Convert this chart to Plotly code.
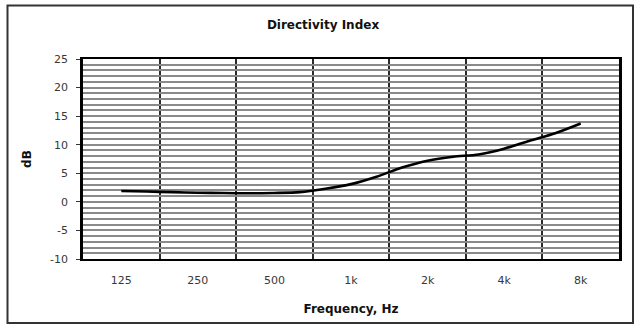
import numpy as np
import plotly.graph_objects as go

# Octave band labels (category axis) and 1/3-octave directivity index values (dB)
octave_labels = ["125", "250", "500", "1k", "2k", "4k", "8k"]
third_octave_labels = ["125", "160", "200", "250", "315", "400", "500", "630", "800",
                       "1k", "1.25k", "1.6k", "2k", "2.5k", "3.15k", "4k", "5k", "6.3k", "8k"]
di_db = [1.9, 1.8, 1.7, 1.6, 1.55, 1.5, 1.55, 1.7, 2.3,
         3.1, 4.4, 6.0, 7.2, 7.9, 8.3, 9.3, 10.7, 12.0, 13.7]
y_tick_vals = [-10, -5, 0, 5, 10, 15, 20, 25]
y_tick_text = ["-10", "-5", "0", "5", "10", "15", "20", "25"]

W, H = 636, 327
L, R, T, B = 83, 17, 59, 68
pw, ph = W - L - R, H - T - B

x_third = np.arange(len(third_octave_labels)) / 3.0
x_oct = np.arange(len(octave_labels))

fig = go.Figure()
fig.add_trace(go.Scatter(
    x=x_third, y=di_db, mode="lines",
    line=dict(color="black", width=2.6, shape="spline", smoothing=0.8),
    hoverinfo="skip", showlegend=False))

tick_font = dict(family="DejaVu Sans", size=11, color="#383838")
title_font = dict(family="DejaVu Sans", size=12, color="#111")
fig.update_layout(
    width=W, height=H,
    margin=dict(l=L, r=R, t=T, b=B),
    paper_bgcolor="white", plot_bgcolor="white",
    title=dict(text="<b>Directivity Index</b>", x=323 / W, xanchor="center",
               y=1 - 25 / H, yanchor="middle", font=title_font),
    xaxis=dict(range=[-0.5, 6.5], tickmode="array", tickvals=x_oct, ticktext=octave_labels,
               showgrid=False, zeroline=False, showline=True, linecolor="black", linewidth=2,
               mirror=True, ticks="", tickfont=tick_font, ticklabelstandoff=10,
               minor=dict(tickvals=list(np.arange(0.5, 6.5, 1.0)), showgrid=True,
                          gridcolor="#2a2a2a", gridwidth=1.6, ticks=""),
               title=dict(text="<b>Frequency, Hz</b>", standoff=18, font=title_font)),
    yaxis=dict(range=[-10, 25], tickmode="array", tickvals=y_tick_vals, ticktext=y_tick_text,
               showgrid=True, gridcolor="#8a8a8a", gridwidth=2.2,
               zeroline=False, showline=True, linecolor="black", linewidth=2.5, mirror=True,
               ticks="outside", ticklen=4, tickcolor="#333", tickfont=tick_font,
               ticklabelstandoff=6,
               minor=dict(dtick=1, tick0=0, showgrid=True, gridcolor="#8a8a8a", gridwidth=2.2, ticks=""),
               title=dict(text="<b>dB</b>", standoff=16, font=title_font)),
)

# outer chart frame
def px2paper_x(px):
    return (px - L) / pw

def py2paper_y(py):
    return (H - B - py) / ph

fig.add_shape(type="rect", xref="paper", yref="paper",
              x0=px2paper_x(7.5), x1=px2paper_x(633), y0=py2paper_y(5.5), y1=py2paper_y(323),
              line=dict(color="#333", width=2), fillcolor="rgba(0,0,0,0)", layer="above")

fig.write_html("out.html")
